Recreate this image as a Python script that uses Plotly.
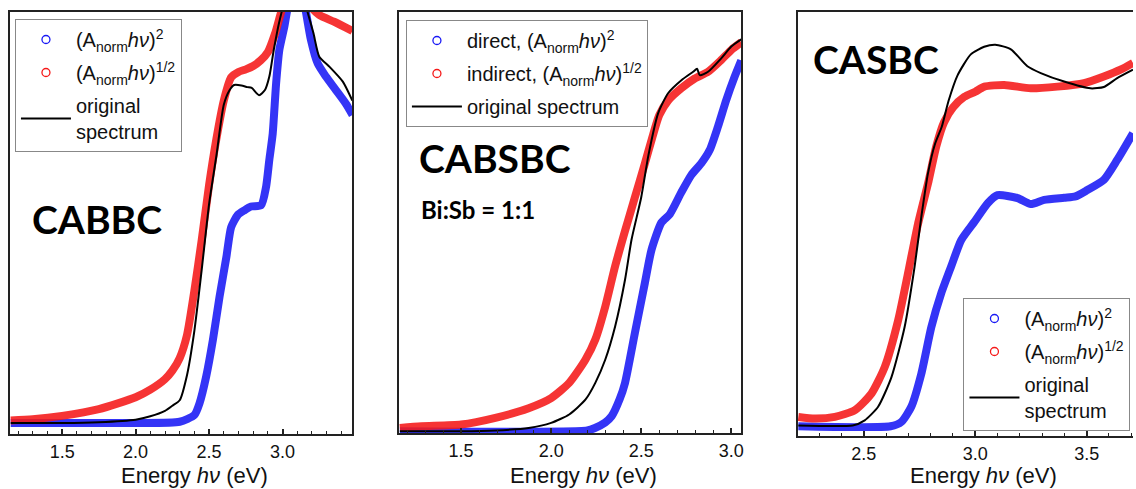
import plotly.graph_objects as go

# ---------------- data (normalised absorbance) ----------------
# Panel 1: CABBC
cabbc_e_dir = [1.15, 2.00, 2.30, 2.40, 2.435, 2.48, 2.526, 2.571, 2.618, 2.65, 2.695, 2.74, 2.786,
               2.854, 2.888, 2.91, 2.933, 2.956, 2.978, 3.012, 3.04, 3.10, 3.154, 3.193, 3.239,
               3.295, 3.363, 3.43, 3.476]
cabbc_dir = [0.026, 0.026, 0.029, 0.045, 0.073, 0.136, 0.223, 0.325, 0.42, 0.49, 0.519, 0.53, 0.539,
             0.542, 0.586, 0.65, 0.712, 0.83, 0.91, 0.965, 1.02, 1.10, 1.01, 0.934, 0.878,
             0.847, 0.815, 0.783, 0.756]
cabbc_e_ind = [1.15, 1.30, 1.50, 1.75, 2.00, 2.10, 2.20, 2.25, 2.30, 2.35, 2.40, 2.45, 2.50, 2.55,
               2.60, 2.65, 2.70, 2.75, 2.80, 2.85, 2.90, 2.95, 3.00, 3.10, 3.20, 3.25, 3.35, 3.475]
cabbc_ind = [0.032, 0.035, 0.043, 0.059, 0.087, 0.105, 0.13, 0.15, 0.18, 0.235, 0.34, 0.46, 0.59, 0.70,
             0.79, 0.845, 0.858, 0.864, 0.872, 0.885, 0.905, 0.95, 1.01, 1.08, 1.01, 0.993, 0.977, 0.955]
cabbc_e_orig = [1.15, 1.50, 1.75, 2.00, 2.10, 2.20, 2.25, 2.30, 2.35, 2.40, 2.45, 2.50, 2.55, 2.60,
                2.64, 2.67, 2.72, 2.76, 2.79, 2.84, 2.88, 2.91, 2.94, 2.98, 3.05, 3.12, 3.17, 3.21,
                3.25, 3.32, 3.41, 3.475]
cabbc_orig = [0.026, 0.026, 0.028, 0.034, 0.042, 0.055, 0.067, 0.08, 0.14, 0.245, 0.39, 0.545, 0.66, 0.78,
              0.815, 0.827, 0.826, 0.822, 0.82, 0.803, 0.815, 0.847, 0.91, 0.98, 1.06, 1.06, 1.0, 0.95,
              0.894, 0.87, 0.835, 0.79]

# Panel 2: CABSBC (Bi:Sb = 1:1)
cabsbc_e_dir = [1.16, 2.20, 2.243, 2.30, 2.336, 2.38, 2.41, 2.465, 2.52, 2.557, 2.612, 2.659, 2.723,
                2.778, 2.834, 2.88, 2.926, 2.972, 3.018, 3.055]
cabsbc_dir = [0.004, 0.006, 0.012, 0.025, 0.04, 0.08, 0.119, 0.238, 0.356, 0.435, 0.50, 0.52, 0.572,
              0.613, 0.641, 0.672, 0.728, 0.791, 0.846, 0.885]
cabsbc_e_ind = [1.16, 1.28, 1.50, 1.69, 1.875, 2.00, 2.10, 2.19, 2.245, 2.30, 2.355, 2.41, 2.465,
                2.52, 2.56, 2.60, 2.65, 2.723, 2.797, 2.871, 2.944, 3.00, 3.055]
cabsbc_ind = [0.012, 0.016, 0.02, 0.036, 0.059, 0.083, 0.119, 0.174, 0.222, 0.30, 0.396, 0.48, 0.56,
              0.64, 0.70, 0.755, 0.79, 0.819, 0.842, 0.858, 0.886, 0.91, 0.928]
cabsbc_e_orig = [1.16, 1.50, 1.69, 1.875, 2.00, 2.10, 2.19, 2.245, 2.30, 2.355, 2.41, 2.446, 2.50,
                 2.54, 2.594, 2.649, 2.723, 2.788, 2.81, 2.825, 2.871, 2.944, 3.00, 3.055]
cabsbc_orig = [0.004, 0.004, 0.006, 0.012, 0.024, 0.044, 0.079, 0.119, 0.174, 0.253, 0.364, 0.459, 0.56,
               0.66, 0.76, 0.807, 0.838, 0.858, 0.865, 0.85, 0.858, 0.89, 0.918, 0.935]

# Panel 3: CASBC
casbc_e_dir = [2.206, 2.62, 2.668, 2.713, 2.758, 2.803, 2.847, 2.892, 2.937, 2.996, 3.056, 3.10, 3.19,
               3.249, 3.309, 3.399, 3.45, 3.503, 3.577, 3.637, 3.708]
casbc_dir = [0.023, 0.023, 0.033, 0.069, 0.147, 0.257, 0.336, 0.40, 0.462, 0.505, 0.549, 0.568, 0.561,
             0.547, 0.557, 0.562, 0.565, 0.58, 0.604, 0.651, 0.714]
casbc_e_ind = [2.206, 2.28, 2.37, 2.46, 2.534, 2.594, 2.654, 2.698, 2.743, 2.79, 2.825, 2.86, 2.90,
               2.951, 3.00, 3.041, 3.13, 3.249, 3.369, 3.488, 3.577, 3.652, 3.708]
casbc_ind = [0.045, 0.041, 0.045, 0.061, 0.10, 0.163, 0.273, 0.383, 0.50, 0.60, 0.683, 0.74, 0.775,
             0.80, 0.812, 0.824, 0.828, 0.82, 0.824, 0.832, 0.848, 0.864, 0.88]
casbc_e_orig = [2.206, 2.45, 2.504, 2.564, 2.624, 2.683, 2.728, 2.758, 2.788, 2.82, 2.85, 2.88, 2.92,
                2.98, 3.04, 3.09, 3.16, 3.234, 3.294, 3.399, 3.517, 3.577, 3.637, 3.708]
casbc_orig = [0.025, 0.025, 0.037, 0.069, 0.139, 0.257, 0.40, 0.517, 0.62, 0.69, 0.73, 0.79, 0.85,
              0.90, 0.918, 0.923, 0.912, 0.872, 0.856, 0.836, 0.82, 0.823, 0.844, 0.864]

x_ranges = [[1.145, 3.473], [1.155, 3.054], [2.204, 3.708]]
x_ticks = [[1.5, 2.0, 2.5, 3.0], [1.5, 2.0, 2.5, 3.0], [2.5, 3.0, 3.5]]
tick_labels = [["1.5", "2.0", "2.5", "3.0"], ["1.5", "2.0", "2.5", "3.0"], ["2.5", "3.0", "3.5"]]

SQ = "(A<sub>norm</sub><i>hν</i>)<sup>2</sup>"
SR = "(A<sub>norm</sub><i>hν</i>)<sup>1/2</sup>"
legend_names = [
    [SQ, SR, "original<br>spectrum"],
    ["direct, " + SQ, "indirect, " + SR, "original spectrum"],
    [SQ, SR, "original<br>spectrum"],
]
panel_labels = ["CABBC", "CABSBC", "CASBC"]

BLUE = "rgb(25,25,245)"
RED = "rgb(245,25,25)"
FONT = "Liberation Sans, Arial, sans-serif"
W, H = 1136, 489

panels = [
    (cabbc_e_dir, cabbc_dir, cabbc_e_ind, cabbc_ind, cabbc_e_orig, cabbc_orig),
    (cabsbc_e_dir, cabsbc_dir, cabsbc_e_ind, cabsbc_ind, cabsbc_e_orig, cabsbc_orig),
    (casbc_e_dir, casbc_dir, casbc_e_ind, casbc_ind, casbc_e_orig, casbc_orig),
]

fig = go.Figure()
for i, (ed, d, ei, ind, eo, o) in enumerate(panels):
    xa = "x" if i == 0 else f"x{i+1}"
    ya = "y" if i == 0 else f"y{i+1}"
    lg = "legend" if i == 0 else f"legend{i+1}"
    sm = dict(shape="spline", smoothing=0.6)
    fig.add_trace(go.Scatter(x=ed, y=d, mode="lines", line=dict(color=BLUE, width=8, **sm),
                             xaxis=xa, yaxis=ya, showlegend=False, opacity=0.88))
    fig.add_trace(go.Scatter(x=ei, y=ind, mode="lines", line=dict(color=RED, width=8, **sm),
                             xaxis=xa, yaxis=ya, showlegend=False, opacity=0.88))
    fig.add_trace(go.Scatter(x=eo, y=o, mode="lines", line=dict(color="black", width=2, **sm),
                             xaxis=xa, yaxis=ya, showlegend=False))
    # legend entries
    fig.add_trace(go.Scatter(x=[None], y=[None], mode="markers", name=legend_names[i][0],
                             legendgroup=f"d{i}",
                             marker=dict(symbol="circle-open", size=8, color=BLUE, line=dict(width=1.3)),
                             xaxis=xa, yaxis=ya, legend=lg))
    fig.add_trace(go.Scatter(x=[None], y=[None], mode="markers", name=legend_names[i][1],
                             legendgroup=f"i{i}",
                             marker=dict(symbol="circle-open", size=8, color=RED, line=dict(width=1.3)),
                             xaxis=xa, yaxis=ya, legend=lg))
    fig.add_trace(go.Scatter(x=[None], y=[None], mode="lines", name=legend_names[i][2],
                             legendgroup=f"o{i}",
                             line=dict(color="black", width=2), xaxis=xa, yaxis=ya, legend=lg))

x_dom = [[10 / W, 353 / W], [400 / W, 743 / W], [800 / W, 1.0]]
y_dom = [[1 - 434 / H, 1 - 12 / H], [1 - 433 / H, 1 - 12 / H], [1 - 436 / H, 1 - 12 / H]]

layout = dict(width=W, height=H, margin=dict(l=0, r=0, t=0, b=0),
              paper_bgcolor="white", plot_bgcolor="white",
              font=dict(family=FONT, color="#111"))
for i in range(3):
    xk = "xaxis" if i == 0 else f"xaxis{i+1}"
    yk = "yaxis" if i == 0 else f"yaxis{i+1}"
    layout[xk] = dict(domain=x_dom[i], range=x_ranges[i], anchor="y" if i == 0 else f"y{i+1}",
                      showline=True, linecolor="#222", linewidth=2, mirror=True,
                      ticks="inside", ticklen=5, tickwidth=1.5, tickcolor="#222",
                      tickvals=x_ticks[i], ticktext=tick_labels[i],
                      minor=dict(ticks="inside", dtick=0.1, tick0=0, ticklen=3, tickwidth=1.2,
                                 tickcolor="#222", showgrid=False),
                      tickfont=dict(size=18, family=FONT, color="#111"),
                      showgrid=False, zeroline=False, fixedrange=True)
    layout[yk] = dict(domain=y_dom[i], range=[0, 1], anchor="x" if i == 0 else f"x{i+1}",
                      showline=True, linecolor="#222", linewidth=2, mirror=(i != 2),
                      ticks="", showticklabels=False, showgrid=False, zeroline=False)

leg_common = dict(bgcolor="white", bordercolor="#888", borderwidth=1,
                  font=dict(size=20, family=FONT, color="#111"),
                  xanchor="left", yanchor="top", itemwidth=50, tracegroupgap=4,
                  traceorder="grouped")
layout["legend"] = dict(x=15 / W, y=1 - 19 / H, **leg_common)
layout["legend2"] = dict(x=407 / W, y=1 - 20 / H, **leg_common)
layout["legend3"] = dict(x=966 / W, y=1 - 298 / H, **leg_common)

title_centers = [195, 585, 986]
ann = []
for c in title_centers:
    ann.append(dict(x=c / W, y=1 - 475 / H, xref="paper", yref="paper", showarrow=False,
                    text="Energy <i>hν</i> (eV)", font=dict(size=22, family=FONT, color="#111"),
                    xanchor="center", yanchor="middle"))
ann.append(dict(x=30 / W, y=1 - 219 / H, xref="paper", yref="paper", showarrow=False,
                text="<b>" + panel_labels[0] + "</b>", font=dict(size=39, family="Lato", color="black"),
                xanchor="left", yanchor="middle"))
ann.append(dict(x=418 / W, y=1 - 158 / H, xref="paper", yref="paper", showarrow=False,
                text="<b>" + panel_labels[1] + "</b>", font=dict(size=39, family="Lato", color="black"),
                xanchor="left", yanchor="middle"))
ann.append(dict(x=420 / W, y=1 - 210 / H, xref="paper", yref="paper", showarrow=False,
                text="<b>Bi:Sb = 1:1</b>", font=dict(size=24, family="Lato", color="black"),
                xanchor="left", yanchor="middle"))
ann.append(dict(x=813 / W, y=1 - 59 / H, xref="paper", yref="paper", showarrow=False,
                text="<b>" + panel_labels[2] + "</b>", font=dict(size=39, family="Lato", color="black"),
                xanchor="left", yanchor="middle"))
layout["annotations"] = ann

fig.update_layout(**layout)
fig.write_html("out.html")
